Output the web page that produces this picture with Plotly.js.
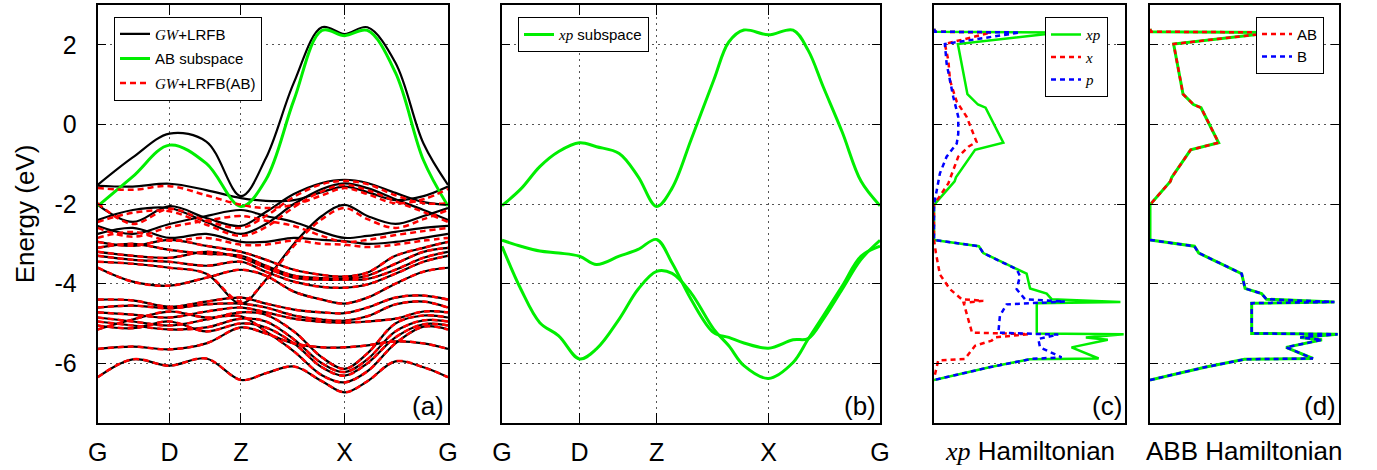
<!DOCTYPE html>
<html>
<head>
<meta charset="utf-8">
<script src="https://cdn.plot.ly/plotly-3.0.1.min.js"></script>
<style>body{margin:0;background:#fff}</style>
</head>
<body>
<div id="chart" style="width:1377px;height:470px"></div>
<script>
// k-path sample points and labels
const kPath = [0, 0.1, 0.205, 0.31, 0.409, 0.48, 0.56, 0.64, 0.705, 0.77, 0.85, 0.93, 1.0];
const kPathB = [0, 0.05, 0.1, 0.15, 0.205, 0.25, 0.31, 0.36, 0.409, 0.45, 0.5, 0.56, 0.6, 0.64, 0.705, 0.77, 0.81, 0.85, 0.9, 0.95, 1.0];
const kTicks = [0, 0.205, 0.409, 0.705, 1];
const kLabels = ['G', 'D', 'Z', 'X', 'G'];
const energyTicks = [-6, -4, -2, 0, 2];
const energyLabels = ['-6', '-4', '-2', '0', '2'];

// GW+LRFB bands, panel (a), black
const gwBands = [
    [-1.52, -0.83, -0.23, -0.43, -1.8, -0.85, 1.05, 2.44, 2.27, 2.44, 1.55, -0.48, -1.52],
    [-1.54, -1.56, -1.49, -1.65, -1.85, -1.92, -1.9, -1.7, -1.56, -1.7, -1.9, -1.8, -1.56],
    [-2.02, -2.45, -2.05, -2.35, -2.55, -2.2, -1.75, -1.47, -1.39, -1.47, -1.72, -1.95, -2.02],
    [-2.4, -2.15, -2.1, -2.45, -2.75, -2.5, -2.0, -1.62, -1.48, -1.6, -1.88, -2.15, -2.4],
    [-2.55, -2.75, -2.5, -2.3, -2.15, -2.3, -2.45, -2.7, -2.85, -2.8, -2.7, -2.6, -2.55],
    [-2.75, -2.6, -2.85, -2.75, -2.95, -2.95, -2.85, -2.9, -2.93, -3.0, -2.95, -2.85, -2.75],
    [-3.45, -3.5, -3.6, -3.75, -4.5, -3.9, -3.0, -2.3, -2.02, -2.3, -2.5, -2.3, -2.1],
    [-2.95, -3.05, -2.9, -3.05, -3.2, -3.4, -3.65, -3.78, -3.82, -3.72, -3.3, -3.1, -2.95],
    [-3.1, -3.0, -3.15, -3.25, -3.3, -3.55, -3.8, -3.86, -3.87, -3.8, -3.5, -3.2, -3.1],
    [-3.2, -3.3, -3.35, -3.2, -3.35, -3.6, -3.85, -3.9, -3.9, -3.88, -3.65, -3.35, -3.2],
    [-3.3, -3.4, -3.45, -3.55, -3.45, -3.7, -3.95, -4.08, -4.1, -4.02, -3.75, -3.45, -3.3],
    [-3.6, -3.95, -4.05, -3.85, -3.65, -3.8, -4.2, -4.4, -4.5, -4.35, -4.0, -3.7, -3.6],
    [-4.4, -4.42, -4.58, -4.45, -4.35, -4.5, -4.65, -4.72, -4.74, -4.6, -4.35, -4.3, -4.4],
    [-4.6, -4.55, -4.62, -4.52, -4.5, -4.6, -4.8, -4.9, -4.93, -4.82, -4.52, -4.45, -4.6],
    [-4.72, -4.78, -4.85, -4.7, -4.6, -4.72, -4.88, -4.96, -4.98, -4.95, -4.88, -4.7, -4.72],
    [-4.85, -4.95, -5.05, -4.9, -4.72, -4.78, -5.2, -5.85, -6.14, -5.75, -5.0, -4.8, -4.85],
    [-4.95, -5.05, -5.15, -5.1, -4.88, -4.95, -5.4, -6.0, -6.22, -5.9, -5.2, -4.92, -4.95],
    [-5.05, -5.12, -4.95, -5.2, -5.0, -5.1, -5.5, -6.1, -6.31, -6.0, -5.35, -5.02, -5.05],
    [-5.15, -4.9, -4.7, -4.85, -4.82, -5.2, -5.7, -6.3, -6.48, -6.2, -5.5, -5.08, -5.15],
    [-5.64, -5.58, -5.65, -5.5, -5.1, -5.25, -5.5, -5.6, -5.6, -5.55, -5.45, -5.5, -5.64],
    [-6.35, -5.9, -6.06, -5.88, -6.42, -6.25, -6.08, -6.45, -6.73, -6.45, -5.95, -6.1, -6.35]
];

// GW+LRFB(AB) bands, red dashed: the upper ones move, the rest sit on the black ones
const gwAbUpper = [
    [-1.6, -1.64, -1.55, -1.78, -2.02, -2.1, -2.02, -1.78, -1.6, -1.75, -1.98, -1.88, -1.62],
    [-1.98, -2.5, -2.12, -2.42, -2.6, -2.3, -1.82, -1.5, -1.42, -1.5, -1.78, -1.98, -1.98],
    [-2.45, -2.22, -2.18, -2.52, -2.8, -2.58, -2.08, -1.68, -1.52, -1.65, -1.93, -2.2, -2.45],
    [-2.6, -2.82, -2.58, -2.42, -2.3, -2.42, -2.55, -2.8, -2.95, -2.9, -2.78, -2.68, -2.6],
    [-2.85, -2.7, -2.92, -2.85, -3.02, -3.02, -2.92, -3.0, -3.02, -3.08, -3.02, -2.92, -2.85],
    [-3.45, -3.5, -3.6, -3.75, -4.45, -3.92, -3.05, -2.38, -2.1, -2.38, -2.6, -2.38, -2.15]
];
const gwAbBands = gwAbUpper.concat(gwBands.slice(7));

// AB subspace band, panel (a)
const abSubspace = [-2.05, -1.31, -0.52, -0.98, -2.06, -1.39, 0.61, 2.36, 2.23, 2.36, 1.3, -0.9, -2.05];

// xp subspace bands, panel (b), on kPathB
const xpBand1 = [-2.04, -1.62, -1.06, -0.68, -0.46, -0.56, -0.73, -1.31, -2.06, -1.6, -0.39, 1.11, 2.07,
    2.37, 2.25, 2.37, 1.86, 0.94, -0.19, -1.43, -2.04];
const xpBand2 = [-2.91, -3.06, -3.18, -3.23, -3.31, -3.52, -3.31, -3.14, -2.89, -3.48, -4.39, -5.23, -5.35,
    -5.49, -5.62, -5.41, -5.38, -4.89, -4.14, -3.39, -2.91];
const xpBand3 = [-3.06, -4.14, -4.98, -5.31, -5.89, -5.64, -4.89, -4.14, -3.69, -3.74, -4.23, -5.14, -5.56,
    -6.06, -6.38, -5.98, -5.39, -4.81, -4.06, -3.31, -3.06];

// projected densities, panels (c) and (d): energy / weight pairs
const dosAbE = [2.4, 2.33, 2.31, 2.02, 0.76, 0.5, 0.42, -0.46, -0.64, -1.33, -1.43, -2.02];
const dosAbV = [0, 0.05, 6.6, 1.25, 1.75, 2.3, 2.7, 3.63, 2.15, 1.15, 1.08, 0];
const dosBE = [-2.9, -3.06, -3.23, -3.64, -3.75, -4.12, -4.25, -4.39, -4.46, -4.49, -5.25, -5.27, -5.35, -5.41, -5.6, -5.88, -5.9, -6.1, -6.42];
const dosBV = [0, 2.35, 2.58, 4.4, 4.85, 5.03, 5.9, 6.16, 9.76, 5.38, 5.38, 9.93, 7.95, 9.1, 7.2, 8.62, 5.0, 2.9, 0];
const dosXE = [2.4, 2.33, 2.31, 2.02, 1.61, 1.1, 0.57, 0.19, -0.44, -0.56, -0.81, -1.14, -1.48, -2.02,
    -2.9, -3.23, -3.77, -4.14, -4.39, -4.43, -4.48, -5.23, -5.27, -5.35, -5.43, -5.56, -5.89, -5.93, -6.39];
const dosXV = [0, 0.05, 3.0, 0.57, 0.75, 0.84, 1.19, 1.71, 2.23, 1.8, 1.27, 1.01, 0.75, 0,
    0, 0.1, 0.31, 0.84, 1.45, 2.58, 1.55, 1.99, 4.94, 3.2, 3.02, 2.15, 1.62, 0.22, 0];
const dosPE = [2.4, 2.33, 2.31, 2.02, 1.53, 0.69, 0.19, -0.23, -0.48, -0.81, -1.23, -1.69, -2.02,
    -2.9, -3.06, -3.23, -3.64, -3.81, -4.14, -4.39, -4.45, -4.52, -4.81, -5.23, -5.28, -5.39, -5.6, -5.85, -5.89, -6.1, -6.42];
const dosPV = [0, 0.05, 4.5, 0.57, 0.66, 1.01, 1.27, 1.27, 1.19, 0.66, 0.31, 0.14, 0,
    0, 2.35, 2.58, 4.33, 4.5, 4.33, 4.76, 6.85, 3.8, 3.45, 3.37, 6.5, 5.46, 5.55, 6.68, 5.11, 2.9, 0];

const GREEN = '#00ee00';
const serif = s => '<i style="font-family:Liberation Serif">' + s + '</i>';

const traces = [];

gwBands.forEach((band, i) => {
    traces.push({
        x: kPath, y: band, xaxis: 'x', yaxis: 'y',
        type: 'scatter', mode: 'lines',
        line: {color: 'black', width: 2.2, shape: 'spline', smoothing: 1},
        name: serif('GW') + '+LRFB', legendgroup: 'gw', showlegend: i === 0, legend: 'legend'
    });
});
traces.push({
    x: kPath, y: abSubspace, xaxis: 'x', yaxis: 'y',
    type: 'scatter', mode: 'lines',
    line: {color: GREEN, width: 3, shape: 'spline', smoothing: 1},
    name: 'AB subspace', legendgroup: 'ab', legend: 'legend'
});
gwAbBands.forEach((band, i) => {
    traces.push({
        x: kPath, y: band, xaxis: 'x', yaxis: 'y',
        type: 'scatter', mode: 'lines',
        line: {color: 'red', width: 2.5, dash: '6px,4px', shape: 'spline', smoothing: 1},
        name: serif('GW') + '+LRFB(AB)', legendgroup: 'gwab', showlegend: i === 0, legend: 'legend'
    });
});

[xpBand1, xpBand2, xpBand3].forEach((band, i) => {
    traces.push({
        x: kPathB, y: band, xaxis: 'x2', yaxis: 'y2',
        type: 'scatter', mode: 'lines',
        line: {color: GREEN, width: 3, shape: 'spline', smoothing: 1},
        name: serif('xp') + ' subspace', legendgroup: 'xp', showlegend: i === 0, legend: 'legend2'
    });
});

// panel (c)
const dosTotE = dosAbE.concat(dosBE);
const dosTotV = dosAbV.concat(dosBV);
traces.push({
    x: dosTotV, y: dosTotE, xaxis: 'x3', yaxis: 'y3', type: 'scatter', mode: 'lines',
    line: {color: GREEN, width: 2.5}, name: serif('xp'), legend: 'legend3'
});
traces.push({
    x: dosXV, y: dosXE, xaxis: 'x3', yaxis: 'y3', type: 'scatter', mode: 'lines',
    line: {color: 'red', width: 2.5, dash: '5px,4px'}, name: serif('x'), legend: 'legend3'
});
traces.push({
    x: dosPV, y: dosPE, xaxis: 'x3', yaxis: 'y3', type: 'scatter', mode: 'lines',
    line: {color: 'blue', width: 2.5, dash: '5px,4px'}, name: serif('p'), legend: 'legend3'
});

// panel (d)
traces.push({
    x: dosTotV, y: dosTotE, xaxis: 'x4', yaxis: 'y4', type: 'scatter', mode: 'lines',
    line: {color: GREEN, width: 3}, showlegend: false
});
traces.push({
    x: dosAbV, y: dosAbE, xaxis: 'x4', yaxis: 'y4', type: 'scatter', mode: 'lines',
    line: {color: 'red', width: 2.5, dash: '5px,4px'}, name: 'AB', legend: 'legend4'
});
traces.push({
    x: dosBV, y: dosBE, xaxis: 'x4', yaxis: 'y4', type: 'scatter', mode: 'lines',
    line: {color: 'blue', width: 2.5, dash: '5px,4px'}, name: 'B', legend: 'legend4'
});

const W = 1377, H = 470;
const px = v => v / W;
const py = v => 1 - v / H;
const yDom = [py(423), py(5)];

const frame = {
    showline: true, linecolor: 'black', linewidth: 2, mirror: 'ticks',
    ticks: 'inside', tickcolor: 'black', zeroline: false,
    gridcolor: '#555', griddash: '2px,4px', gridwidth: 1
};
const kAxis = (dom, anchor) => Object.assign({}, frame, {
    domain: dom, anchor: anchor, range: [0, 1],
    tickvals: kTicks, ticktext: kLabels, ticklen: 10, showgrid: true,
    tickfont: {size: 25}, ticklabelstandoff: 6
});
const dosAxis = (dom, anchor) => Object.assign({}, frame, {
    domain: dom, anchor: anchor, range: [0, 10],
    ticks: '', showticklabels: false, showgrid: false
});
const eAxis = (anchor, labels) => Object.assign({}, frame, {
    domain: yDom, anchor: anchor, range: [-7.5, 3],
    tickvals: energyTicks, ticktext: energyLabels, ticklen: 8, showgrid: true,
    showticklabels: labels, tickfont: {size: 25}, ticklabelstandoff: 14
});

const legendBase = {
    bgcolor: 'white', bordercolor: 'black', borderwidth: 1,
    font: {size: 15}, itemwidth: 30, yanchor: 'top', tracegroupgap: 2
};

const panelLabel = (ax, txt) => ({
    xref: ax + ' domain', yref: (ax === 'x' ? 'y' : 'y' + ax.slice(1)) + ' domain',
    x: 0.995, y: 0.0, xanchor: 'right', yanchor: 'bottom',
    text: txt, showarrow: false, font: {size: 26}
});

const layout = {
    width: W, height: H,
    margin: {l: 0, r: 0, t: 0, b: 0},
    paper_bgcolor: 'white', plot_bgcolor: 'white',
    font: {family: 'Liberation Sans', color: 'black'},
    xaxis: kAxis([px(97.7), px(448)], 'y'),
    xaxis2: kAxis([px(502), px(880)], 'y2'),
    xaxis3: dosAxis([px(934), px(1125)], 'y3'),
    xaxis4: dosAxis([px(1150), px(1339)], 'y4'),
    yaxis: Object.assign(eAxis('x', true), {
        title: {text: 'Energy (eV)', font: {size: 26}, standoff: 12}
    }),
    yaxis2: eAxis('x2', false),
    yaxis3: eAxis('x3', false),
    yaxis4: eAxis('x4', false),
    legend: Object.assign({}, legendBase, {x: px(114), y: py(16.7), xanchor: 'left'}),
    legend2: Object.assign({}, legendBase, {x: px(518), y: py(17.3), xanchor: 'left'}),
    legend3: Object.assign({}, legendBase, {x: px(1108), y: py(17.3), xanchor: 'right'}),
    legend4: Object.assign({}, legendBase, {x: px(1324), y: py(16.7), xanchor: 'right'}),
    annotations: [
        panelLabel('x', '(a)'),
        panelLabel('x2', '(b)'),
        panelLabel('x3', '(c)'),
        panelLabel('x4', '(d)'),
        {xref: 'x3 domain', yref: 'paper', x: 0.5, y: py(451), xanchor: 'center', yanchor: 'middle',
         text: serif('xp') + ' Hamiltonian', showarrow: false, font: {size: 26}},
        {xref: 'x4 domain', yref: 'paper', x: 0.5, y: py(451), xanchor: 'center', yanchor: 'middle',
         text: 'ABB Hamiltonian', showarrow: false, font: {size: 26}}
    ],
    showlegend: true
};

Plotly.newPlot('chart', traces, layout, {displayModeBar: false, staticPlot: true});
</script>
</body>
</html>
